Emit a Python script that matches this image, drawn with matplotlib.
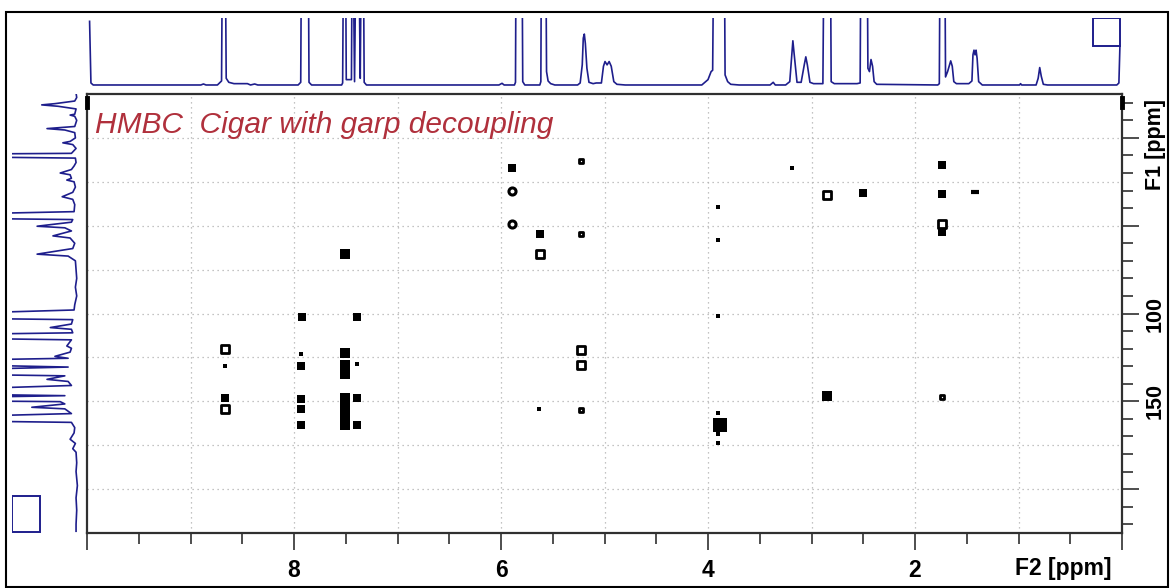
import matplotlib.pyplot as plt
from matplotlib.patches import Rectangle

plt.rcParams["font.family"] = ["Liberation Sans", "DejaVu Sans"]

# 1H projection (top), ppm / relative intensity; 3.0 = clipped above the frame
top_ppm = [9.975, 9.962, 9.94, 8.90, 8.875, 8.85, 8.74, 8.70, 8.688, 8.668, 8.655, 8.63, 8.58,
           8.45, 8.42, 8.38, 8.35, 7.96, 7.935, 7.925, 7.865, 7.855, 7.83, 7.54, 7.53, 7.518,
           7.505, 7.495, 7.445, 7.435, 7.415, 7.395, 7.38, 7.36, 7.345, 7.333, 7.322, 7.30,
           6.02, 5.99, 5.97, 5.87, 5.86, 5.852, 5.800, 5.79, 5.77, 5.625, 5.615, 5.607, 5.570,
           5.56, 5.545, 5.52, 5.48, 5.26, 5.235, 5.215, 5.205, 5.195, 5.185, 5.17, 5.15, 5.11,
           5.08, 5.03, 5.01, 4.995, 4.975, 4.955, 4.935, 4.91, 4.88, 4.80, 4.06, 4.00, 3.97,
           3.955, 3.94, 3.845, 3.835, 3.81, 3.78, 3.70, 3.40, 3.37, 3.35, 3.25, 3.21, 3.19,
           3.18, 3.17, 3.14, 3.10, 3.07, 3.055, 3.04, 3.015, 2.98, 2.89, 2.875, 2.82, 2.81,
           2.78, 2.56, 2.53, 2.52, 2.465, 2.455, 2.44, 2.425, 2.41, 2.395, 2.37, 1.78, 1.765,
           1.755, 1.715, 1.705, 1.685, 1.655, 1.64, 1.625, 1.60, 1.48, 1.45, 1.44, 1.43, 1.42,
           1.41, 1.40, 1.385, 1.35, 0.99, 0.98, 0.97, 0.83, 0.81, 0.795, 0.78, 0.76, 0.72,
           0.05, 0.03, 0.02]
top_int = [0.95, 0.03, 0.0, 0.0, 0.015, 0.0, 0.0, 0.06, 3.0, 3.0, 0.1, 0.04, 0.02,
           0.02, 0.0, 0.015, 0.0, 0.0, 0.04, 3.0, 3.0, 0.04, 0.0, 0.0, 0.03, 3.0,
           3.0, 0.08, 0.08, 3.0, 0.05, 3.0, 3.0, 0.1, 3.0, 3.0, 0.04, 0.0,
           0.0, 0.025, 0.0, 0.0, 0.04, 3.0, 3.0, 0.05, 0.0, 0.0, 0.05, 3.0, 3.0,
           0.2, 0.06, 0.02, 0.0, 0.0, 0.03, 0.3, 0.7, 0.76, 0.62, 0.25, 0.04, 0.02,
           0.03, 0.03, 0.28, 0.35, 0.3, 0.35, 0.28, 0.05, 0.01, 0.0, 0.0, 0.08, 0.2,
           0.22, 3.0, 3.0, 0.15, 0.05, 0.01, 0.0, 0.0, 0.04, 0.0, 0.0, 0.05, 0.45,
           0.66, 0.5, 0.04, 0.04, 0.3, 0.42, 0.3, 0.04, 0.02, 0.02, 3.0, 3.0, 0.05,
           0.02, 0.02, 0.03, 3.0, 3.0, 0.25, 0.2, 0.38, 0.28, 0.05, 0.01, 0.0, 0.02,
           3.0, 3.0, 0.12, 0.2, 0.36, 0.28, 0.05, 0.02, 0.02, 0.06, 0.45, 0.52, 0.45,
           0.52, 0.4, 0.05, 0.0, 0.0, 0.02, 0.0, 0.0, 0.1, 0.26, 0.13, 0.01, 0.0,
           0.0, 0.03, 0.58]

# 13C projection (left), ppm / relative intensity
left_ppm = [-25.5, -23, -21, -19.5, -18.8, -18, -16.5, -13.5, -13, -12.3, -10, -6.5, -5.3,
            -4.5, -3, 0, 2, 2.8, 3.8, 6, 8.8, 9.5, 10.3, 11.5, 14, 16, 18, 20, 21, 23, 24,
            25, 28, 31, 33.5, 35, 38, 42, 44.3, 45.3, 46.5, 48, 50.3, 51.2, 53, 55.8, 57,
            60, 63, 66.2, 67.3, 70, 75, 80, 85, 90, 95, 98, 101.2, 102.2, 103.5, 106, 108,
            109, 111, 112.5, 113.5, 115, 118.5, 119.8, 122, 124.4, 125.5, 127.3, 128.3,
            130.5, 133, 134, 135.5, 137.5, 138.7, 141, 144.4, 145.3, 146.8, 148.5, 149.4,
            150.2, 151.5, 153.4, 154.3, 157, 159.8, 160.6, 162, 165, 168, 171.6, 174, 177,
            179, 185, 190, 198, 205, 212, 220, 224]
left_int = [0.03, 0.02, 0.05, 0.35, 0.55, 0.3, 0.03, 0.05, 0.12, 0.05, 0.02, 0.05, 0.47,
            0.2, 0.05, 0.04, 0.12, 0.23, 0.08, 0.03, 0.1, 3.0, 3.0, 0.04, 0.03, 0.06, 0.1,
            0.27, 0.12, 0.1, 0.17, 0.06, 0.04, 0.08, 0.24, 0.08, 0.05, 0.06, 3.0, 3.0, 0.08,
            0.1, 0.62, 0.2, 0.1, 0.38, 0.12, 0.05, 0.08, 0.62, 0.15, 0.04, 0.03, 0.02, 0.04,
            0.02, 0.05, 0.06, 3.0, 3.0, 0.08, 0.1, 0.42, 0.1, 0.08, 3.0, 3.0, 0.1, 0.17,
            0.1, 0.12, 0.35, 0.15, 3.0, 3.0, 0.15, 3.0, 3.0, 0.2, 0.47, 0.15, 0.1, 3.0, 3.0,
            0.2, 3.0, 3.0, 0.27, 0.2, 0.7, 0.2, 0.1, 3.0, 3.0, 0.1, 0.05, 0.06, 0.12, 0.04,
            0.08, 0.03, 0.02, 0.03, 0.01, 0.03, 0.02, 0.03, 0.03]

# HMBC cross peaks: F2 (1H), F1 (13C), kind (f filled, o open, c circle, d dash), size level
cp_f2 = [5.89, 5.89, 5.89, 5.62, 5.62, 7.51, 7.92, 7.39, 5.23, 5.23, 3.19, 3.90, 3.90, 3.90,
         2.85, 2.50, 1.74, 1.74, 1.74, 1.74, 1.42, 8.67, 8.67, 8.67, 8.67, 7.93, 7.93, 7.93,
         7.93, 7.93, 7.51, 7.51, 7.51, 7.51, 7.51, 7.51, 7.51, 7.39, 7.39, 7.39, 5.63, 5.23,
         5.23, 5.23, 3.90, 3.88, 3.90, 3.90, 2.85, 1.74]
cp_f1 = [16.9, 30.5, 48.9, 54.5, 65.9, 66.1, 101.9, 101.9, 13.4, 54.7, 16.9, 39.6, 58.0, 101.5,
         32.4, 31.4, 15.3, 32.0, 49.0, 53.5, 31.0, 120.5, 129.9, 148.3, 154.5, 123.3, 129.9,
         148.5, 154.5, 163.6, 122.3, 129.5, 134.7, 147.9, 153.6, 158.3, 163.6, 129.0, 147.9,
         163.6, 154.5, 120.8, 129.5, 155.1, 156.4, 163.6, 168.8, 173.5, 147.0, 147.4]
cp_kind = ["f", "c", "c", "f", "o", "f", "f", "f", "o", "o", "f", "f", "f", "f",
           "o", "f", "f", "f", "o", "f", "d", "o", "f", "f", "o", "f", "f", "f",
           "f", "f", "f", "f", "f", "f", "f", "f", "f", "f", "f", "f", "f", "o",
           "o", "o", "f", "f", "f", "f", "f", "o"]
cp_level = [2, 2, 2, 2, 2, 3, 2, 2, 1, 1, 1, 1, 1, 1,
            2, 2, 2, 2, 2, 2, 1, 2, 1, 2, 2, 1, 2, 2,
            2, 2, 3, 3, 3, 3, 3, 3, 3, 1, 2, 2, 1, 2,
            2, 1, 1, 4, 1, 1, 3, 1]

W, H = 1170, 588
blue = "#1e1e8c"
fig = plt.figure(figsize=(W / 100, H / 100), dpi=100)


def box(x0, y0, x1, y1):
    # pixel box (top-left origin) -> figure fraction rect
    return [x0 / W, 1 - y1 / H, (x1 - x0) / W, (y1 - y0) / H]


# main 2D panel
ax = fig.add_axes(box(87, 94, 1122, 533))
ax.set_xlim(10, 0)
ax.set_ylim(225, -25)
for v in range(1, 10):
    ax.axvline(v, color="#b0b0b0", lw=0.9, ls=(0, (1, 3)), zorder=0)
for h in range(0, 201, 25):
    ax.axhline(h, color="#b0b0b0", lw=0.9, ls=(0, (1, 3)), zorder=0)

size_pt = {1: 9, 2: 26, 3: 42, 4: 95}
for f2, f1, k, lv in zip(cp_f2, cp_f1, cp_kind, cp_level):
    s = size_pt[lv]
    if k == "f":
        ax.scatter(f2, f1, s=s, marker="s", c="black", linewidths=0, zorder=3)
    elif k == "o":
        ax.scatter(f2, f1, s=s, marker="s", facecolors="white", edgecolors="black",
                   linewidths=2.0, zorder=3)
    elif k == "c":
        ax.scatter(f2, f1, s=s, marker="o", facecolors="white", edgecolors="black",
                   linewidths=2.2, zorder=3)
    else:
        ax.scatter(f2, f1, s=40, marker="_", c="black", linewidths=3, zorder=3)

# cursor marks on the frame
ax.plot([10, 10], [-22.5, -17.5], color="black", lw=3.5, clip_on=False, zorder=4)
ax.plot([0, 0], [-22.5, -17.5], color="black", lw=3.5, clip_on=False, zorder=4)

ax.text(0.008, 0.93, "HMBC  Cigar with garp decoupling", transform=ax.transAxes,
        fontsize=21.5, style="italic", color="#b0303c", va="center", ha="left")

for sp in ax.spines.values():
    sp.set_linewidth(1.6)
    sp.set_color("#303030")

ax.set_xticks([10, 8, 6, 4, 2, 0])
ax.set_xticklabels(["", "8", "6", "4", "2", ""])
ax.set_xticks([9.5, 9, 8.5, 7.5, 7, 6.5, 5.5, 5, 4.5, 3.5, 3, 2.5, 1.5, 1, 0.5], minor=True)
ax.yaxis.tick_right()
ax.set_yticks([0, 50, 100, 150, 200])
ax.set_yticklabels(["", "", "100", "150", ""], rotation=90, va="center")
ax.set_yticks([v for v in range(-20, 221, 10) if v % 50 != 0], minor=True)
ax.tick_params(which="major", direction="out", length=12, width=1.2, color="#303030",
               labelsize=16.5, pad=7)
ax.tick_params(which="minor", direction="out", length=8, width=1.2, color="#303030")
ax.tick_params(axis="y", which="major", pad=4, labelsize=15.5)
for t in ax.get_xticklabels() + ax.get_yticklabels():
    t.set_fontweight("bold")

fig.text(1063 / W, 1 - 569 / H, "F2 [ppm]", fontsize=16.5, fontweight="bold",
         ha="center", va="center")
fig.text(1155 / W, 1 - 145 / H, "F1 [ppm]", fontsize=15.5, fontweight="bold",
         ha="center", va="center", rotation=90)

# top 1H projection
axt = fig.add_axes(box(87, 18, 1122, 88))
axt.set_xlim(10, 0)
axt.set_ylim(-0.045, 1.0)
axt.plot(top_ppm, top_int, color=blue, lw=1.2)
axt.add_patch(Rectangle((0.28, 0.58), -0.26, 0.42, fill=False, ec=blue, lw=1.4))
axt.axis("off")

# left 13C projection
axl = fig.add_axes(box(12, 94, 82, 533))
axl.set_xlim(1.0, -0.06)
axl.set_ylim(225, -25)
axl.plot(left_int, left_ppm, color=blue, lw=1.2)
axl.add_patch(Rectangle((1.0, 204), -0.42, 20.4, fill=False, ec=blue, lw=1.4))
axl.axis("off")

# outer frame
fig.add_artist(Rectangle((6 / W, 1 / H), (1168 - 6) / W, (587 - 12) / H,
                         transform=fig.transFigure, fill=False, ec="black", lw=1.5))

fig.savefig("out.png", dpi=100)
